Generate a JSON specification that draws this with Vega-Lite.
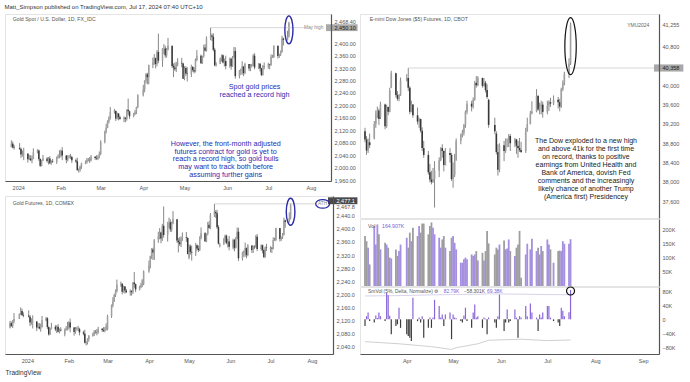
{
"$schema":"https://vega.github.io/schema/vega-lite/v6.json",
"background":"white",
"padding":{"left":4,"top":3,"right":0,"bottom":0},
"config":{"font":"Liberation Sans","view":{"stroke":"#e4e4e4","strokeWidth":1,"fill":"white"},"axis":{"labelFontSize":5.5,"labelColor":"#555","grid":false,"ticks":false,"domainColor":"#555","domainWidth":1.2,"labelPadding":3,"labelOverlap":false,"labelSeparation":0}},
"title":{"text":"Matt_Simpson published on TradingView.com, Jul 17, 2024 07:40 UTC+10","anchor":"start","fontSize":6,"fontWeight":"normal","color":"#333","offset":3},
"datasets":{
"spot":[
{"d":"2023-12-27","o":2067,"h":2088,"l":2065,"c":2077},{"d":"2023-12-28","o":2077,"h":2084,"l":2062,"c":2065},{"d":"2023-12-29","o":2065,"h":2073,"l":2058,"c":2063},
{"d":"2024-01-02","o":2063,"h":2079,"l":2057,"c":2060},{"d":"2024-01-03","o":2060,"h":2065,"l":2031,"c":2042},{"d":"2024-01-04","o":2042,"h":2055,"l":2035,"c":2043},{"d":"2024-01-05","o":2043,"h":2064,"l":2024,"c":2045},
{"d":"2024-01-08","o":2045,"h":2047,"l":2016,"c":2027},{"d":"2024-01-09","o":2027,"h":2041,"l":2024,"c":2029},{"d":"2024-01-10","o":2029,"h":2040,"l":2021,"c":2024},{"d":"2024-01-11","o":2024,"h":2039,"l":2014,"c":2028},{"d":"2024-01-12","o":2028,"h":2062,"l":2027,"c":2049},
{"d":"2024-01-15","o":2049,"h":2059,"l":2046,"c":2055},{"d":"2024-01-16","o":2055,"h":2058,"l":2022,"c":2028},{"d":"2024-01-17","o":2028,"h":2030,"l":2002,"c":2006},{"d":"2024-01-18","o":2006,"h":2025,"l":2004,"c":2023},{"d":"2024-01-19","o":2023,"h":2041,"l":2021,"c":2029},
{"d":"2024-01-22","o":2029,"h":2034,"l":2016,"c":2021},{"d":"2024-01-23","o":2021,"h":2034,"l":2010,"c":2029},{"d":"2024-01-24","o":2029,"h":2037,"l":2012,"c":2014},{"d":"2024-01-25","o":2014,"h":2024,"l":2009,"c":2020},{"d":"2024-01-26","o":2020,"h":2028,"l":2015,"c":2018},
{"d":"2024-01-29","o":2018,"h":2036,"l":2012,"c":2032},{"d":"2024-01-30","o":2032,"h":2043,"l":2029,"c":2036},{"d":"2024-01-31","o":2036,"h":2056,"l":2030,"c":2039},{"d":"2024-02-01","o":2039,"h":2058,"l":2033,"c":2054},{"d":"2024-02-02","o":2054,"h":2066,"l":2024,"c":2039},
{"d":"2024-02-05","o":2039,"h":2040,"l":2014,"c":2025},{"d":"2024-02-06","o":2025,"h":2040,"l":2020,"c":2035},{"d":"2024-02-07","o":2035,"h":2041,"l":2030,"c":2035},{"d":"2024-02-08","o":2035,"h":2044,"l":2028,"c":2034},{"d":"2024-02-09","o":2034,"h":2038,"l":2015,"c":2024},
{"d":"2024-02-12","o":2024,"h":2029,"l":2015,"c":2020},{"d":"2024-02-13","o":2020,"h":2032,"l":1990,"c":1992},{"d":"2024-02-14","o":1992,"h":1997,"l":1984,"c":1992},{"d":"2024-02-15","o":1992,"h":2006,"l":1987,"c":2004},{"d":"2024-02-16","o":2004,"h":2016,"l":1996,"c":2013},
{"d":"2024-02-19","o":2013,"h":2023,"l":2011,"c":2017},{"d":"2024-02-20","o":2017,"h":2031,"l":2013,"c":2025},{"d":"2024-02-21","o":2025,"h":2031,"l":2020,"c":2025},{"d":"2024-02-22","o":2025,"h":2034,"l":2015,"c":2024},{"d":"2024-02-23","o":2024,"h":2041,"l":2020,"c":2035},
{"d":"2024-02-26","o":2035,"h":2037,"l":2025,"c":2031},{"d":"2024-02-27","o":2031,"h":2040,"l":2025,"c":2029},{"d":"2024-02-28","o":2029,"h":2040,"l":2024,"c":2034},{"d":"2024-02-29","o":2034,"h":2052,"l":2030,"c":2044},{"d":"2024-03-01","o":2044,"h":2088,"l":2040,"c":2083},
{"d":"2024-03-04","o":2083,"h":2119,"l":2078,"c":2115},{"d":"2024-03-05","o":2115,"h":2141,"l":2110,"c":2128},{"d":"2024-03-06","o":2128,"h":2152,"l":2127,"c":2148},{"d":"2024-03-07","o":2148,"h":2165,"l":2142,"c":2160},{"d":"2024-03-08","o":2160,"h":2195,"l":2155,"c":2179},
{"d":"2024-03-11","o":2179,"h":2189,"l":2173,"c":2182},{"d":"2024-03-12","o":2182,"h":2184,"l":2150,"c":2158},{"d":"2024-03-13","o":2158,"h":2177,"l":2155,"c":2174},{"d":"2024-03-14","o":2174,"h":2175,"l":2152,"c":2162},{"d":"2024-03-15","o":2162,"h":2167,"l":2154,"c":2156},
{"d":"2024-03-18","o":2156,"h":2165,"l":2146,"c":2160},{"d":"2024-03-19","o":2160,"h":2163,"l":2146,"c":2157},{"d":"2024-03-20","o":2157,"h":2187,"l":2151,"c":2186},{"d":"2024-03-21","o":2186,"h":2222,"l":2170,"c":2181},{"d":"2024-03-22","o":2181,"h":2183,"l":2157,"c":2165},
{"d":"2024-03-25","o":2165,"h":2176,"l":2162,"c":2172},{"d":"2024-03-26","o":2172,"h":2185,"l":2169,"c":2179},{"d":"2024-03-27","o":2179,"h":2196,"l":2172,"c":2194},{"d":"2024-03-28","o":2194,"h":2236,"l":2191,"c":2233},
{"d":"2024-04-01","o":2233,"h":2266,"l":2229,"c":2251},{"d":"2024-04-02","o":2251,"h":2281,"l":2242,"c":2280},{"d":"2024-04-03","o":2280,"h":2304,"l":2271,"c":2300},{"d":"2024-04-04","o":2300,"h":2305,"l":2268,"c":2291},{"d":"2024-04-05","o":2291,"h":2331,"l":2268,"c":2330},
{"d":"2024-04-08","o":2330,"h":2354,"l":2320,"c":2339},{"d":"2024-04-09","o":2339,"h":2365,"l":2331,"c":2352},{"d":"2024-04-10","o":2352,"h":2354,"l":2319,"c":2333},{"d":"2024-04-11","o":2333,"h":2378,"l":2326,"c":2372},{"d":"2024-04-12","o":2372,"h":2431,"l":2336,"c":2344},
{"d":"2024-04-15","o":2344,"h":2384,"l":2324,"c":2383},{"d":"2024-04-16","o":2383,"h":2397,"l":2365,"c":2383},{"d":"2024-04-17","o":2383,"h":2392,"l":2353,"c":2361},{"d":"2024-04-18","o":2361,"h":2385,"l":2354,"c":2379},{"d":"2024-04-19","o":2379,"h":2417,"l":2377,"c":2392},
{"d":"2024-04-22","o":2392,"h":2392,"l":2320,"c":2327},{"d":"2024-04-23","o":2327,"h":2335,"l":2291,"c":2322},{"d":"2024-04-24","o":2322,"h":2338,"l":2311,"c":2316},{"d":"2024-04-25","o":2316,"h":2340,"l":2307,"c":2332},{"d":"2024-04-26","o":2332,"h":2352,"l":2326,"c":2337},
{"d":"2024-04-29","o":2337,"h":2353,"l":2323,"c":2335},{"d":"2024-04-30","o":2335,"h":2337,"l":2285,"c":2286},{"d":"2024-05-01","o":2286,"h":2326,"l":2281,"c":2320},{"d":"2024-05-02","o":2320,"h":2326,"l":2295,"c":2303},{"d":"2024-05-03","o":2303,"h":2323,"l":2277,"c":2301},
{"d":"2024-05-06","o":2301,"h":2331,"l":2291,"c":2324},{"d":"2024-05-07","o":2324,"h":2326,"l":2308,"c":2314},{"d":"2024-05-08","o":2314,"h":2323,"l":2303,"c":2309},{"d":"2024-05-09","o":2309,"h":2351,"l":2306,"c":2346},{"d":"2024-05-10","o":2346,"h":2378,"l":2342,"c":2360},
{"d":"2024-05-13","o":2360,"h":2364,"l":2334,"c":2336},{"d":"2024-05-14","o":2336,"h":2360,"l":2333,"c":2358},{"d":"2024-05-15","o":2358,"h":2395,"l":2354,"c":2386},{"d":"2024-05-16","o":2386,"h":2397,"l":2374,"c":2376},{"d":"2024-05-17","o":2376,"h":2422,"l":2373,"c":2415},
{"d":"2024-05-20","o":2415,"h":2450,"l":2410,"c":2425},{"d":"2024-05-21","o":2425,"h":2431,"l":2407,"c":2421},{"d":"2024-05-22","o":2421,"h":2432,"l":2374,"c":2379},{"d":"2024-05-23","o":2379,"h":2385,"l":2326,"c":2329},{"d":"2024-05-24","o":2329,"h":2339,"l":2325,"c":2334},
{"d":"2024-05-27","o":2334,"h":2354,"l":2333,"c":2350},{"d":"2024-05-28","o":2350,"h":2364,"l":2341,"c":2361},{"d":"2024-05-29","o":2361,"h":2364,"l":2335,"c":2338},{"d":"2024-05-30","o":2338,"h":2351,"l":2325,"c":2343},{"d":"2024-05-31","o":2343,"h":2360,"l":2316,"c":2327},
{"d":"2024-06-03","o":2327,"h":2354,"l":2321,"c":2350},{"d":"2024-06-04","o":2350,"h":2353,"l":2315,"c":2326},{"d":"2024-06-05","o":2326,"h":2359,"l":2324,"c":2355},{"d":"2024-06-06","o":2355,"h":2388,"l":2352,"c":2375},{"d":"2024-06-07","o":2375,"h":2387,"l":2286,"c":2294},
{"d":"2024-06-10","o":2294,"h":2314,"l":2287,"c":2311},{"d":"2024-06-11","o":2311,"h":2318,"l":2298,"c":2316},{"d":"2024-06-12","o":2316,"h":2342,"l":2299,"c":2325},{"d":"2024-06-13","o":2325,"h":2327,"l":2294,"c":2304},{"d":"2024-06-14","o":2304,"h":2337,"l":2300,"c":2333},
{"d":"2024-06-17","o":2333,"h":2333,"l":2311,"c":2319},{"d":"2024-06-18","o":2319,"h":2333,"l":2310,"c":2329},{"d":"2024-06-19","o":2329,"h":2334,"l":2322,"c":2328},{"d":"2024-06-20","o":2328,"h":2365,"l":2327,"c":2360},{"d":"2024-06-21","o":2360,"h":2368,"l":2316,"c":2322},
{"d":"2024-06-24","o":2322,"h":2336,"l":2317,"c":2334},{"d":"2024-06-25","o":2334,"h":2336,"l":2309,"c":2319},{"d":"2024-06-26","o":2319,"h":2321,"l":2294,"c":2298},{"d":"2024-06-27","o":2298,"h":2330,"l":2296,"c":2327},{"d":"2024-06-28","o":2327,"h":2338,"l":2316,"c":2326},
{"d":"2024-07-01","o":2326,"h":2337,"l":2318,"c":2332},{"d":"2024-07-02","o":2332,"h":2334,"l":2316,"c":2330},{"d":"2024-07-03","o":2330,"h":2364,"l":2327,"c":2356},{"d":"2024-07-04","o":2356,"h":2363,"l":2353,"c":2356},{"d":"2024-07-05","o":2356,"h":2393,"l":2352,"c":2392},
{"d":"2024-07-08","o":2392,"h":2392,"l":2351,"c":2359},{"d":"2024-07-09","o":2359,"h":2366,"l":2353,"c":2364},{"d":"2024-07-10","o":2364,"h":2377,"l":2359,"c":2371},{"d":"2024-07-11","o":2371,"h":2424,"l":2370,"c":2415},{"d":"2024-07-12","o":2415,"h":2418,"l":2393,"c":2411},
{"d":"2024-07-15","o":2411,"h":2440,"l":2409,"c":2422},{"d":"2024-07-16","o":2422,"h":2469,"l":2418,"c":2466}
],
"fut":[
{"d":"2023-12-19","o":2099,"h":2119,"l":2096,"c":2112},{"d":"2023-12-20","o":2112,"h":2117,"l":2101,"c":2103},{"d":"2023-12-21","o":2103,"h":2122,"l":2097,"c":2117},{"d":"2023-12-22","o":2117,"h":2143,"l":2112,"c":2125},{"d":"2023-12-26","o":2125,"h":2142,"l":2125,"c":2139},
{"d":"2023-12-27","o":2139,"h":2160,"l":2137,"c":2149},{"d":"2023-12-28","o":2149,"h":2156,"l":2134,"c":2137},{"d":"2023-12-29","o":2137,"h":2145,"l":2130,"c":2135},{"d":"2024-01-02","o":2135,"h":2151,"l":2129,"c":2132},{"d":"2024-01-03","o":2132,"h":2137,"l":2103,"c":2114},
{"d":"2024-01-04","o":2114,"h":2127,"l":2107,"c":2115},{"d":"2024-01-05","o":2115,"h":2136,"l":2096,"c":2117},{"d":"2024-01-08","o":2117,"h":2119,"l":2088,"c":2099},{"d":"2024-01-09","o":2099,"h":2113,"l":2096,"c":2101},{"d":"2024-01-10","o":2101,"h":2112,"l":2093,"c":2096},
{"d":"2024-01-11","o":2096,"h":2111,"l":2086,"c":2100},{"d":"2024-01-12","o":2100,"h":2134,"l":2099,"c":2121},{"d":"2024-01-15","o":2121,"h":2131,"l":2118,"c":2127},{"d":"2024-01-16","o":2127,"h":2130,"l":2094,"c":2100},{"d":"2024-01-17","o":2100,"h":2102,"l":2074,"c":2078},
{"d":"2024-01-18","o":2078,"h":2097,"l":2076,"c":2095},{"d":"2024-01-19","o":2095,"h":2113,"l":2093,"c":2101},{"d":"2024-01-22","o":2101,"h":2106,"l":2088,"c":2093},{"d":"2024-01-23","o":2093,"h":2106,"l":2082,"c":2101},{"d":"2024-01-24","o":2101,"h":2109,"l":2084,"c":2086},
{"d":"2024-01-25","o":2086,"h":2096,"l":2081,"c":2092},{"d":"2024-01-26","o":2092,"h":2100,"l":2087,"c":2090},{"d":"2024-01-29","o":2078,"h":2096,"l":2072,"c":2092},{"d":"2024-01-30","o":2092,"h":2103,"l":2089,"c":2096},{"d":"2024-01-31","o":2096,"h":2116,"l":2090,"c":2099},
{"d":"2024-02-01","o":2099,"h":2118,"l":2093,"c":2114},{"d":"2024-02-02","o":2114,"h":2126,"l":2084,"c":2099},{"d":"2024-02-05","o":2099,"h":2100,"l":2074,"c":2085},{"d":"2024-02-06","o":2085,"h":2100,"l":2080,"c":2095},{"d":"2024-02-07","o":2095,"h":2101,"l":2090,"c":2095},
{"d":"2024-02-08","o":2095,"h":2104,"l":2088,"c":2094},{"d":"2024-02-09","o":2094,"h":2098,"l":2075,"c":2084},{"d":"2024-02-12","o":2084,"h":2089,"l":2075,"c":2080},{"d":"2024-02-13","o":2080,"h":2092,"l":2050,"c":2052},{"d":"2024-02-14","o":2052,"h":2057,"l":2044,"c":2052},
{"d":"2024-02-15","o":2052,"h":2066,"l":2047,"c":2064},{"d":"2024-02-16","o":2064,"h":2076,"l":2056,"c":2073},{"d":"2024-02-19","o":2073,"h":2083,"l":2071,"c":2077},{"d":"2024-02-20","o":2077,"h":2091,"l":2073,"c":2085},{"d":"2024-02-21","o":2085,"h":2091,"l":2080,"c":2085},
{"d":"2024-02-22","o":2085,"h":2094,"l":2075,"c":2084},{"d":"2024-02-23","o":2084,"h":2101,"l":2080,"c":2095},{"d":"2024-02-26","o":2095,"h":2097,"l":2085,"c":2091},{"d":"2024-02-27","o":2091,"h":2100,"l":2085,"c":2089},{"d":"2024-02-28","o":2089,"h":2100,"l":2084,"c":2094},
{"d":"2024-02-29","o":2094,"h":2112,"l":2090,"c":2104},{"d":"2024-03-01","o":2094,"h":2138,"l":2090,"c":2133},{"d":"2024-03-04","o":2133,"h":2169,"l":2128,"c":2165},{"d":"2024-03-05","o":2165,"h":2191,"l":2160,"c":2178},{"d":"2024-03-06","o":2178,"h":2202,"l":2177,"c":2198},
{"d":"2024-03-07","o":2198,"h":2215,"l":2192,"c":2210},{"d":"2024-03-08","o":2210,"h":2245,"l":2205,"c":2229},{"d":"2024-03-11","o":2229,"h":2239,"l":2223,"c":2232},{"d":"2024-03-12","o":2232,"h":2234,"l":2200,"c":2208},{"d":"2024-03-13","o":2208,"h":2227,"l":2205,"c":2224},
{"d":"2024-03-14","o":2224,"h":2225,"l":2202,"c":2212},{"d":"2024-03-15","o":2212,"h":2217,"l":2204,"c":2206},{"d":"2024-03-18","o":2206,"h":2215,"l":2196,"c":2210},{"d":"2024-03-19","o":2210,"h":2213,"l":2196,"c":2207},{"d":"2024-03-20","o":2207,"h":2237,"l":2201,"c":2236},
{"d":"2024-03-21","o":2236,"h":2268,"l":2220,"c":2231},{"d":"2024-03-22","o":2231,"h":2233,"l":2207,"c":2215},{"d":"2024-03-25","o":2215,"h":2226,"l":2212,"c":2222},{"d":"2024-03-26","o":2222,"h":2235,"l":2219,"c":2229},{"d":"2024-03-27","o":2229,"h":2246,"l":2222,"c":2244},
{"d":"2024-03-28","o":2231,"h":2273,"l":2228,"c":2270},{"d":"2024-04-01","o":2270,"h":2303,"l":2266,"c":2288},{"d":"2024-04-02","o":2288,"h":2318,"l":2279,"c":2317},{"d":"2024-04-03","o":2317,"h":2341,"l":2308,"c":2337},{"d":"2024-04-04","o":2337,"h":2342,"l":2305,"c":2328},
{"d":"2024-04-05","o":2328,"h":2368,"l":2305,"c":2367},{"d":"2024-04-08","o":2367,"h":2391,"l":2357,"c":2376},{"d":"2024-04-09","o":2376,"h":2402,"l":2368,"c":2389},{"d":"2024-04-10","o":2389,"h":2391,"l":2356,"c":2370},{"d":"2024-04-11","o":2370,"h":2415,"l":2363,"c":2409},
{"d":"2024-04-12","o":2409,"h":2468,"l":2373,"c":2381},{"d":"2024-04-15","o":2381,"h":2421,"l":2361,"c":2420},{"d":"2024-04-16","o":2420,"h":2434,"l":2402,"c":2420},{"d":"2024-04-17","o":2420,"h":2429,"l":2390,"c":2398},{"d":"2024-04-18","o":2398,"h":2422,"l":2391,"c":2416},
{"d":"2024-04-19","o":2416,"h":2454,"l":2414,"c":2429},{"d":"2024-04-22","o":2429,"h":2429,"l":2357,"c":2364},{"d":"2024-04-23","o":2364,"h":2372,"l":2328,"c":2359},{"d":"2024-04-24","o":2359,"h":2375,"l":2348,"c":2353},{"d":"2024-04-25","o":2353,"h":2377,"l":2344,"c":2369},
{"d":"2024-04-26","o":2369,"h":2389,"l":2363,"c":2374},{"d":"2024-04-29","o":2374,"h":2390,"l":2360,"c":2372},{"d":"2024-04-30","o":2372,"h":2374,"l":2322,"c":2323},{"d":"2024-05-01","o":2312,"h":2352,"l":2307,"c":2346},{"d":"2024-05-02","o":2346,"h":2352,"l":2321,"c":2329},
{"d":"2024-05-03","o":2329,"h":2349,"l":2303,"c":2327},{"d":"2024-05-06","o":2327,"h":2357,"l":2317,"c":2350},{"d":"2024-05-07","o":2350,"h":2352,"l":2334,"c":2340},{"d":"2024-05-08","o":2340,"h":2349,"l":2329,"c":2335},{"d":"2024-05-09","o":2335,"h":2377,"l":2332,"c":2372},
{"d":"2024-05-10","o":2372,"h":2404,"l":2368,"c":2386},{"d":"2024-05-13","o":2386,"h":2390,"l":2360,"c":2362},{"d":"2024-05-14","o":2362,"h":2386,"l":2359,"c":2384},{"d":"2024-05-15","o":2384,"h":2421,"l":2380,"c":2412},{"d":"2024-05-16","o":2412,"h":2423,"l":2400,"c":2402},
{"d":"2024-05-17","o":2402,"h":2448,"l":2399,"c":2441},{"d":"2024-05-20","o":2441,"h":2476,"l":2436,"c":2451},{"d":"2024-05-21","o":2451,"h":2457,"l":2433,"c":2447},{"d":"2024-05-22","o":2447,"h":2458,"l":2400,"c":2405},{"d":"2024-05-23","o":2405,"h":2411,"l":2352,"c":2355},
{"d":"2024-05-24","o":2347,"h":2357,"l":2343,"c":2352},{"d":"2024-05-27","o":2352,"h":2372,"l":2351,"c":2368},{"d":"2024-05-28","o":2368,"h":2382,"l":2359,"c":2379},{"d":"2024-05-29","o":2379,"h":2382,"l":2353,"c":2356},{"d":"2024-05-30","o":2356,"h":2369,"l":2343,"c":2361},
{"d":"2024-05-31","o":2361,"h":2378,"l":2334,"c":2345},{"d":"2024-06-03","o":2343,"h":2370,"l":2337,"c":2366},{"d":"2024-06-04","o":2366,"h":2369,"l":2331,"c":2342},{"d":"2024-06-05","o":2342,"h":2375,"l":2340,"c":2371},{"d":"2024-06-06","o":2371,"h":2404,"l":2368,"c":2391},
{"d":"2024-06-07","o":2391,"h":2403,"l":2302,"c":2310},{"d":"2024-06-10","o":2310,"h":2330,"l":2303,"c":2327},{"d":"2024-06-11","o":2327,"h":2334,"l":2314,"c":2332},{"d":"2024-06-12","o":2332,"h":2358,"l":2315,"c":2341},{"d":"2024-06-13","o":2341,"h":2343,"l":2310,"c":2320},
{"d":"2024-06-14","o":2320,"h":2353,"l":2316,"c":2349},{"d":"2024-06-17","o":2349,"h":2349,"l":2327,"c":2335},{"d":"2024-06-18","o":2335,"h":2349,"l":2326,"c":2345},{"d":"2024-06-19","o":2345,"h":2350,"l":2338,"c":2344},{"d":"2024-06-20","o":2344,"h":2381,"l":2343,"c":2376},
{"d":"2024-06-21","o":2376,"h":2384,"l":2332,"c":2338},{"d":"2024-06-24","o":2338,"h":2352,"l":2333,"c":2350},{"d":"2024-06-25","o":2350,"h":2352,"l":2325,"c":2335},{"d":"2024-06-26","o":2335,"h":2337,"l":2310,"c":2314},{"d":"2024-06-27","o":2314,"h":2346,"l":2312,"c":2343},
{"d":"2024-06-28","o":2343,"h":2354,"l":2332,"c":2342},{"d":"2024-07-01","o":2336,"h":2347,"l":2328,"c":2342},{"d":"2024-07-02","o":2342,"h":2344,"l":2326,"c":2340},{"d":"2024-07-03","o":2340,"h":2374,"l":2337,"c":2366},{"d":"2024-07-04","o":2366,"h":2373,"l":2363,"c":2366},
{"d":"2024-07-05","o":2366,"h":2403,"l":2362,"c":2402},{"d":"2024-07-08","o":2402,"h":2402,"l":2361,"c":2369},{"d":"2024-07-09","o":2369,"h":2376,"l":2363,"c":2374},{"d":"2024-07-10","o":2374,"h":2387,"l":2369,"c":2381},{"d":"2024-07-11","o":2381,"h":2434,"l":2380,"c":2425},
{"d":"2024-07-12","o":2425,"h":2428,"l":2403,"c":2421},{"d":"2024-07-15","o":2421,"h":2450,"l":2419,"c":2432},{"d":"2024-07-16","o":2432,"h":2477,"l":2428,"c":2474}
],
"dow":[
{"d":"2024-03-05","o":39050,"h":39120,"l":38820,"c":38880,"v":176,"s":-19},{"d":"2024-03-06","o":38880,"h":38950,"l":38560,"c":38650,"v":158,"s":9},{"d":"2024-03-07","o":38650,"h":38900,"l":38600,"c":38820,"v":135,"s":19},{"d":"2024-03-08","o":38820,"h":39000,"l":38700,"c":38760,"v":76,"s":-5},
{"d":"2024-03-11","o":38900,"h":39260,"l":38880,"c":39200,"v":211,"s":-9},{"d":"2024-03-12","o":39200,"h":39480,"l":39120,"c":39420,"v":146,"s":11},{"d":"2024-03-13","o":39420,"h":39560,"l":39320,"c":39480,"v":217,"s":4},{"d":"2024-03-14","o":39480,"h":39520,"l":39180,"c":39300,"v":182,"s":19},
{"d":"2024-03-15","o":39350,"h":39660,"l":39300,"c":39600,"v":129,"s":9},{"d":"2024-03-18","o":39600,"h":39620,"l":39090,"c":39150,"v":152,"s":-5},{"d":"2024-03-19","o":39150,"h":39600,"l":39120,"c":39550,"v":146,"s":75},{"d":"2024-03-20","o":39550,"h":39560,"l":39380,"c":39450,"v":135,"s":68},
{"d":"2024-03-21","o":39450,"h":39950,"l":39440,"c":39900,"v":100,"s":10},{"d":"2024-03-22","o":39950,"h":40300,"l":39940,"c":40250,"v":97,"s":-42},{"d":"2024-03-25","o":40250,"h":40260,"l":39750,"c":39800,"v":129,"s":-19},{"d":"2024-03-26","o":39800,"h":39880,"l":39680,"c":39720,"v":106,"s":-14},
{"d":"2024-03-27","o":39720,"h":39820,"l":39670,"c":39800,"v":123,"s":33},{"d":"2024-03-28","o":39800,"h":40160,"l":39780,"c":40100,"v":146,"s":-24},{"d":"2024-04-01","o":40100,"h":40230,"l":40080,"c":40150,"v":170,"s":-42},{"d":"2024-04-02","o":40150,"h":40358,"l":39880,"c":39950,"v":135,"s":-47},
{"d":"2024-04-03","o":39950,"h":39980,"l":39400,"c":39450,"v":188,"s":-52},{"d":"2024-04-04","o":39450,"h":39680,"l":39440,"c":39600,"v":158,"s":-61},{"d":"2024-04-05","o":39600,"h":39610,"l":39330,"c":39380,"v":205,"s":61},{"d":"2024-04-08","o":39380,"h":39540,"l":39190,"c":39250,"v":176,"s":-5},
{"d":"2024-04-09","o":39250,"h":39330,"l":39120,"c":39300,"v":211,"s":5},{"d":"2024-04-10","o":39300,"h":39310,"l":39020,"c":39060,"v":188,"s":-9},{"d":"2024-04-11","o":39060,"h":39130,"l":38640,"c":38700,"v":220,"s":9},{"d":"2024-04-12","o":38700,"h":38850,"l":38500,"c":38560,"v":220,"s":-52},
{"d":"2024-04-15","o":38560,"h":38640,"l":38150,"c":38200,"v":182,"s":-24},{"d":"2024-04-16","o":38200,"h":38370,"l":37990,"c":38050,"v":211,"s":5},{"d":"2024-04-17","o":38050,"h":38230,"l":37950,"c":38000,"v":224,"s":-24},{"d":"2024-04-18","o":38000,"h":38290,"l":37980,"c":38060,"v":205,"s":5},
{"d":"2024-04-19","o":38060,"h":38430,"l":37470,"c":38230,"v":182,"s":55},{"d":"2024-04-22","o":38230,"h":38510,"l":38100,"c":38450,"v":170,"s":38},{"d":"2024-04-23","o":38450,"h":38720,"l":38430,"c":38700,"v":135,"s":5},{"d":"2024-04-24","o":38700,"h":38780,"l":38500,"c":38640,"v":164,"s":14},
{"d":"2024-04-25","o":38640,"h":38650,"l":38220,"c":38350,"v":176,"s":-19},{"d":"2024-04-26","o":38350,"h":38700,"l":38340,"c":38600,"v":135,"s":14},{"d":"2024-04-29","o":38600,"h":38700,"l":38400,"c":38560,"v":123,"s":19},{"d":"2024-04-30","o":38560,"h":38600,"l":38020,"c":38060,"v":170,"s":-56},
{"d":"2024-05-01","o":38060,"h":38400,"l":37880,"c":38150,"v":176,"s":14},{"d":"2024-05-02","o":38150,"h":38580,"l":38100,"c":38450,"v":152,"s":5},{"d":"2024-05-03","o":38450,"h":38900,"l":38440,"c":38850,"v":129,"s":3},{"d":"2024-05-06","o":38850,"h":39000,"l":38780,"c":38980,"v":82,"s":-5},
{"d":"2024-05-07","o":38980,"h":39080,"l":38920,"c":39020,"v":82,"s":-9},{"d":"2024-05-08","o":39020,"h":39200,"l":38960,"c":39180,"v":94,"s":11},{"d":"2024-05-09","o":39180,"h":39480,"l":39120,"c":39450,"v":100,"s":33},{"d":"2024-05-10","o":39450,"h":39680,"l":39400,"c":39620,"v":94,"s":-5},
{"d":"2024-05-13","o":39620,"h":39680,"l":39460,"c":39560,"v":111,"s":-24},{"d":"2024-05-14","o":39560,"h":39750,"l":39520,"c":39700,"v":106,"s":19},{"d":"2024-05-15","o":39700,"h":40090,"l":39680,"c":40050,"v":111,"s":42},{"d":"2024-05-16","o":40050,"h":40190,"l":39950,"c":40000,"v":123,"s":5},
{"d":"2024-05-17","o":40000,"h":40190,"l":39980,"c":40150,"v":90,"s":9},{"d":"2024-05-20","o":40150,"h":40160,"l":39950,"c":39990,"v":117,"s":-24},{"d":"2024-05-21","o":39990,"h":40150,"l":39970,"c":40050,"v":90,"s":5},{"d":"2024-05-22","o":40050,"h":40090,"l":39850,"c":39900,"v":123,"s":2},
{"d":"2024-05-23","o":39900,"h":40020,"l":39720,"c":39760,"v":194,"s":-42},{"d":"2024-05-24","o":39700,"h":39720,"l":39120,"c":39180,"v":150,"s":5},{"d":"2024-05-28","o":39180,"h":39330,"l":38990,"c":39050,"v":111,"s":-9},{"d":"2024-05-29","o":39000,"h":39050,"l":38570,"c":38620,"v":135,"s":-24},
{"d":"2024-05-30","o":38620,"h":38780,"l":38130,"c":38250,"v":129,"s":9},{"d":"2024-05-31","o":38250,"h":38800,"l":38200,"c":38760,"v":146,"s":70},{"d":"2024-06-03","o":38760,"h":38850,"l":38430,"c":38640,"v":160,"s":-33},{"d":"2024-06-04","o":38640,"h":38900,"l":38600,"c":38850,"v":129,"s":-9},
{"d":"2024-06-05","o":38850,"h":38900,"l":38720,"c":38880,"v":132,"s":28},{"d":"2024-06-06","o":38880,"h":38990,"l":38720,"c":38950,"v":164,"s":-9},{"d":"2024-06-07","o":38950,"h":38990,"l":38640,"c":38800,"v":123,"s":-5},{"d":"2024-06-10","o":38800,"h":38910,"l":38720,"c":38880,"v":106,"s":28},
{"d":"2024-06-11","o":38880,"h":38890,"l":38580,"c":38750,"v":135,"s":5},{"d":"2024-06-12","o":38750,"h":38850,"l":38500,"c":38700,"v":146,"s":-52},{"d":"2024-06-13","o":38700,"h":38910,"l":38620,"c":38660,"v":194,"s":9},{"d":"2024-06-14","o":38660,"h":38830,"l":38600,"c":38620,"v":29,"s":5},
{"d":"2024-06-17","o":38640,"h":39120,"l":38600,"c":39050,"v":111,"s":38},{"d":"2024-06-18","o":39050,"h":39330,"l":39040,"c":39200,"v":149,"s":9},{"d":"2024-06-20","o":39200,"h":39470,"l":39190,"c":39420,"v":129,"s":45},{"d":"2024-06-21","o":39420,"h":39670,"l":39400,"c":39460,"v":166,"s":19},
{"d":"2024-06-24","o":39460,"h":39920,"l":39440,"c":39780,"v":123,"s":5},{"d":"2024-06-25","o":39780,"h":39800,"l":39470,"c":39500,"v":135,"s":-33},{"d":"2024-06-26","o":39500,"h":39640,"l":39400,"c":39550,"v":111,"s":14},{"d":"2024-06-27","o":39550,"h":39680,"l":39400,"c":39600,"v":141,"s":5},
{"d":"2024-06-28","o":39600,"h":39660,"l":39330,"c":39450,"v":123,"s":19},{"d":"2024-07-01","o":39450,"h":39680,"l":39400,"c":39580,"v":164,"s":38},{"d":"2024-07-02","o":39580,"h":39690,"l":39470,"c":39650,"v":146,"s":38},{"d":"2024-07-03","o":39650,"h":39740,"l":39550,"c":39620,"v":129,"s":5},
{"d":"2024-07-05","o":39620,"h":39790,"l":39590,"c":39700,"v":82,"s":-5},{"d":"2024-07-08","o":39700,"h":39760,"l":39520,"c":39650,"v":123,"s":-9},{"d":"2024-07-09","o":39650,"h":39720,"l":39460,"c":39560,"v":125,"s":-19},{"d":"2024-07-10","o":39560,"h":39950,"l":39530,"c":39920,"v":123,"s":33},
{"d":"2024-07-11","o":39920,"h":40100,"l":39880,"c":40050,"v":158,"s":24},{"d":"2024-07-12","o":40050,"h":40280,"l":40000,"c":40230,"v":149,"s":9},{"d":"2024-07-15","o":40230,"h":40560,"l":40150,"c":40450,"v":149,"s":20},{"d":"2024-07-16","o":40450,"h":41300,"l":40420,"c":41255,"v":165,"s":83}
],
"bands":[
{"d":"2024-03-05","u":66,"lo":-63},{"d":"2024-03-27","u":67,"lo":-69},{"d":"2024-04-17","u":69,"lo":-77},{"d":"2024-04-30","u":70,"lo":-85},{"d":"2024-05-03","u":70,"lo":-80},{"d":"2024-05-17","u":71,"lo":-69},{"d":"2024-05-24","u":72,"lo":-59},{"d":"2024-06-14","u":71,"lo":-56},{"d":"2024-07-01","u":70,"lo":-60},{"d":"2024-07-16","u":69.4,"lo":-58.3}
],
"levels":[
{"panel":"spot","d":"2024-05-20","d2":"2024-07-28","p":2450},{"panel":"fut","d":"2024-05-20","d2":"2024-08-03","p":2476},{"panel":"dow","d":"2024-04-02","d2":"2024-09-08","p":40358}
],
"tags":[
{"panel":"spot","d":"2024-08-12","d2":"2024-09-04","p":2439,"p2":2461},
{"panel":"fut","d":"2024-08-13","d2":"2024-09-04","p":2475,"p2":2496},
{"panel":"dow","d":"2024-09-08","d2":"2024-09-27","p":40284,"p2":40432}
],
"rings":[
{"panel":"spot","d":"2024-07-16","p":2443},{"panel":"fut","d":"2024-07-16","p":2452},{"panel":"ath","d":"2024-08-09","p":2476},{"panel":"dow","d":"2024-07-16","p":40809},{"panel":"smv","d":"2024-07-16","p":80}
],
"notes":[
{"panel":"spot","k":"hdr","d":"2023-12-28","p":2478,"t":"Gold Spot / U.S. Dollar, 1D, FX_IDC"},
{"panel":"spot","k":"blue","d":"2024-06-21","p":2258,"t":"Spot gold prices\nreached a record high"},
{"panel":"spot","k":"blue","d":"2024-05-31","p":2077,"t":"However, the front-month adjusted\nfutures contract for gold is yet to\nreach a record high, so gold bulls\nmay want to track both before\nassuming further gains"},
{"panel":"spot","k":"small","d":"2024-08-03","p":2450,"t":"May high"},
{"panel":"fut","k":"hdr","d":"2023-12-21","p":2479,"t":"Gold Futures, 1D, COMEX"},
{"panel":"fut","k":"small","d":"2024-08-09","p":2476,"t":"ATH"},
{"panel":"dow","k":"hdr","d":"2024-03-08","p":41372,"t":"E-mini Dow Jones ($5) Futures, 1D, CBOT"},
{"panel":"dow","k":"hdrR","d":"2024-09-05","p":41255,"t":"YMU2024"},
{"panel":"dow","k":"black","d":"2024-07-26","p":38848,"t":"The Dow exploded to a new high\nand above 41k for the first time\non record, thanks to positive\nearnings from United Health and\nBank of America, dovish Fed\ncomments and the increasingly\nlikely chance of another Trump\n(America first) Presidencey"},
{"panel":"vol","k":"hdr","d":"2024-03-07","p":212,"t":"Vol"},
{"panel":"vol","k":"pur","d":"2024-03-16","p":212,"t":"164.907K"},
{"panel":"smv","k":"hdr","d":"2024-03-07","p":77,"t":"SmVol (5%, Delta, Normalize) ⚙"},
{"panel":"smv","k":"pur","d":"2024-04-25","p":77,"t":"82.79K"},
{"panel":"smv","k":"hdr","d":"2024-05-08","p":77,"t":"−58.301K"},
{"panel":"smv","k":"pur","d":"2024-05-23","p":77,"t":"69.38K"}
]
},
"spacing":0,
"hconcat":[
{"bounds":"flush","spacing":15,"vconcat":[
{"width":326,"height":167,
"encoding":{"x":{"field":"d","type":"temporal","scale":{"domain":[{"year":2023,"month":12,"date":26},{"year":2024,"month":8,"date":12}]},"axis":{"tickCount":{"interval":"month","step":1},"labelExpr":"month(datum.value)==0?'2024':timeFormat(datum.value,'%b')","title":null,"labelPadding":4,"labelOverlap":false}}},
"layer":[
{"data":{"name":"spot"},"mark":{"type":"rule","color":"#555","strokeWidth":0.7},"encoding":{"y":{"field":"l","type":"quantitative","scale":{"domain":[1957,2494],"nice":false,"zero":false},"axis":{"orient":"right","values":[1960,2000,2040,2080,2120,2160,2200,2240,2280,2320,2360,2400,2450.1,2468.4],"tickCount":100,"format":",.2f","labelOverlap":false,"zindex":1,"labelColor":{"condition":{"test":"datum.value==2450.1","value":"#222"},"value":"#555"},"title":null}},"y2":{"field":"h"}}},
{"data":{"name":"spot"},"mark":{"type":"bar","width":1.5},"encoding":{"y":{"field":"o","type":"quantitative"},"y2":{"field":"c"},"color":{"condition":{"test":"datum.c>=datum.o","value":"#a0a0a0"},"value":"#383838"}}},
{"data":{"name":"levels"},"transform":[{"filter":"datum.panel=='spot'"}],"mark":{"type":"rule","color":"#cccccc","strokeWidth":0.8},"encoding":{"x2":{"field":"d2"},"y":{"field":"p","type":"quantitative"}}},
{"data":{"name":"tags"},"transform":[{"filter":"datum.panel=='spot'"}],"mark":{"type":"rect","color":"#a8a8a8"},"encoding":{"x2":{"field":"d2"},"y":{"field":"p","type":"quantitative"},"y2":{"field":"p2"}}},
{"data":{"name":"rings"},"transform":[{"filter":"datum.panel=='spot'"}],"mark":{"type":"point","shape":"M0,-1A0.29,1,0,1,1,0,1A0.29,1,0,1,1,0,-1Z","size":784,"filled":false,"color":"#2b2ba6","strokeWidth":1.4,"opacity":1},"encoding":{"y":{"field":"p","type":"quantitative"}}},
{"data":{"name":"notes"},"transform":[{"filter":"datum.panel=='spot' && datum.k=='hdr'"}],"mark":{"type":"text","align":"left","baseline":"middle","fontSize":5.2,"color":"#555"},"encoding":{"y":{"field":"p","type":"quantitative"},"text":{"field":"t"}}},
{"data":{"name":"notes"},"transform":[{"filter":"datum.panel=='spot' && datum.k=='small'"}],"mark":{"type":"text","align":"center","baseline":"middle","fontSize":4.8,"color":"#888"},"encoding":{"y":{"field":"p","type":"quantitative"},"text":{"field":"t"}}},
{"data":{"name":"notes"},"transform":[{"filter":"datum.panel=='spot' && datum.k=='blue'"}],"mark":{"type":"text","align":"center","baseline":"middle","fontSize":7.2,"lineHeight":7.9,"lineBreak":"\n","color":"#2b2bb0"},"encoding":{"y":{"field":"p","type":"quantitative"},"text":{"field":"t"}}}
]},
{"width":328,"height":158,
"encoding":{"x":{"field":"d","type":"temporal","scale":{"domain":[{"year":2023,"month":12,"date":19},{"year":2024,"month":8,"date":13}]},"axis":{"tickCount":{"interval":"month","step":1},"labelExpr":"month(datum.value)==0?'2024':timeFormat(datum.value,'%b')","labelOverlap":false,"title":"TradingView","titleAnchor":"start","titleAlign":"left","titleFontSize":6.5,"titleFontWeight":"normal","titleColor":"#333","titlePadding":6,"labelPadding":4}}},
"layer":[
{"data":{"name":"fut"},"mark":{"type":"rule","color":"#555","strokeWidth":0.7},"encoding":{"y":{"field":"l","type":"quantitative","scale":{"domain":[2018,2500],"nice":false,"zero":false},"axis":{"orient":"right","values":[2040,2080,2120,2160,2200,2240,2280,2320,2360,2400,2440,2467.8,2485.5],"tickCount":100,"labelExpr":"datum.value==2485.5?'2,477.1':format(datum.value,',.1f')","labelOverlap":false,"zindex":1,"labelColor":{"condition":{"test":"datum.value==2485.5","value":"white"},"value":"#555"},"title":null}},"y2":{"field":"h"}}},
{"data":{"name":"fut"},"mark":{"type":"bar","width":1.5},"encoding":{"y":{"field":"o","type":"quantitative"},"y2":{"field":"c"},"color":{"condition":{"test":"datum.c>=datum.o","value":"#a0a0a0"},"value":"#383838"}}},
{"data":{"name":"levels"},"transform":[{"filter":"datum.panel=='fut'"}],"mark":{"type":"rule","color":"#cccccc","strokeWidth":0.8},"encoding":{"x2":{"field":"d2"},"y":{"field":"p","type":"quantitative"}}},
{"data":{"name":"tags"},"transform":[{"filter":"datum.panel=='fut'"}],"mark":{"type":"rect","color":"#4a4a4a"},"encoding":{"x2":{"field":"d2"},"y":{"field":"p","type":"quantitative"},"y2":{"field":"p2"}}},
{"data":{"name":"rings"},"transform":[{"filter":"datum.panel=='fut'"}],"mark":{"type":"point","shape":"M0,-1A0.32,1,0,1,1,0,1A0.32,1,0,1,1,0,-1Z","size":729,"filled":false,"color":"#2b2ba6","strokeWidth":1.4,"opacity":1},"encoding":{"y":{"field":"p","type":"quantitative"}}},
{"data":{"name":"rings"},"transform":[{"filter":"datum.panel=='ath'"}],"mark":{"type":"point","shape":"M-1,0A1,0.62,0,1,1,1,0A1,0.62,0,1,1,-1,0Z","size":196,"filled":false,"color":"#2b2ba6","strokeWidth":1.3,"opacity":1},"encoding":{"y":{"field":"p","type":"quantitative"}}},
{"data":{"name":"notes"},"transform":[{"filter":"datum.panel=='fut' && datum.k=='hdr'"}],"mark":{"type":"text","align":"left","baseline":"middle","fontSize":5.2,"color":"#555"},"encoding":{"y":{"field":"p","type":"quantitative"},"text":{"field":"t"}}},
{"data":{"name":"notes"},"transform":[{"filter":"datum.panel=='fut' && datum.k=='small'"}],"mark":{"type":"text","align":"center","baseline":"middle","fontSize":4.8,"color":"#888"},"encoding":{"y":{"field":"p","type":"quantitative"},"text":{"field":"t"}}}
]}
]},
{"bounds":"flush","spacing":1,"vconcat":[
{"width":299,"height":204,
"encoding":{"x":{"field":"d","type":"temporal","scale":{"domain":[{"year":2024,"month":3,"date":5},{"year":2024,"month":9,"date":8}]},"axis":null}},
"layer":[
{"data":{"name":"dow"},"mark":{"type":"rule","color":"#555","strokeWidth":0.7},"encoding":{"y":{"field":"l","type":"quantitative","scale":{"domain":[37254,41475],"nice":false,"zero":false},"axis":{"orient":"right","values":[37600,38000,38400,38800,39200,39600,40000,40358,40800,41255],"tickCount":100,"format":",d","labelOverlap":false,"zindex":1,"labelColor":{"condition":{"test":"datum.value==40358","value":"#222"},"value":"#555"},"title":null}},"y2":{"field":"h"}}},
{"data":{"name":"dow"},"mark":{"type":"bar","width":1.6},"encoding":{"y":{"field":"o","type":"quantitative"},"y2":{"field":"c"},"color":{"condition":{"test":"datum.c>=datum.o","value":"#a0a0a0"},"value":"#383838"}}},
{"data":{"name":"levels"},"transform":[{"filter":"datum.panel=='dow'"}],"mark":{"type":"rule","color":"#cccccc","strokeWidth":0.8},"encoding":{"x2":{"field":"d2"},"y":{"field":"p","type":"quantitative"}}},
{"data":{"name":"tags"},"transform":[{"filter":"datum.panel=='dow'"}],"mark":{"type":"rect","color":"#a8a8a8"},"encoding":{"x2":{"field":"d2"},"y":{"field":"p","type":"quantitative"},"y2":{"field":"p2"}}},
{"data":{"name":"rings"},"transform":[{"filter":"datum.panel=='dow'"}],"mark":{"type":"point","shape":"M0,-1A0.2,1,0,1,1,0,1A0.2,1,0,1,1,0,-1Z","size":3249,"filled":false,"color":"#111","strokeWidth":1.2,"opacity":1},"encoding":{"y":{"field":"p","type":"quantitative"}}},
{"data":{"name":"notes"},"transform":[{"filter":"datum.panel=='dow' && datum.k=='hdr'"}],"mark":{"type":"text","align":"left","baseline":"middle","fontSize":5.2,"color":"#555"},"encoding":{"y":{"field":"p","type":"quantitative"},"text":{"field":"t"}}},
{"data":{"name":"notes"},"transform":[{"filter":"datum.panel=='dow' && datum.k=='hdrR'"}],"mark":{"type":"text","align":"right","baseline":"middle","fontSize":5,"color":"#666"},"encoding":{"y":{"field":"p","type":"quantitative"},"text":{"field":"t"}}},
{"data":{"name":"notes"},"transform":[{"filter":"datum.panel=='dow' && datum.k=='black'"}],"mark":{"type":"text","align":"center","baseline":"middle","fontSize":7,"lineHeight":8,"lineBreak":"\n","color":"#222"},"encoding":{"y":{"field":"p","type":"quantitative"},"text":{"field":"t"}}}
]},
{"width":299,"height":67,
"encoding":{"x":{"field":"d","type":"temporal","scale":{"domain":[{"year":2024,"month":3,"date":5},{"year":2024,"month":9,"date":8}]},"axis":null}},
"layer":[
{"data":{"name":"dow"},"mark":{"type":"bar","width":1.8},"encoding":{"y":{"field":"v","type":"quantitative","scale":{"domain":[0,236],"nice":false},"axis":{"orient":"right","values":[50,100,150,200],"tickCount":100,"labelExpr":"datum.value+'K'","labelOverlap":false,"title":null}},"color":{"condition":{"test":"datum.c>=datum.o","value":"#a58fe0"},"value":"#9e9e9e"}}},
{"data":{"name":"notes"},"transform":[{"filter":"datum.panel=='vol' && datum.k=='hdr'"}],"mark":{"type":"text","align":"left","baseline":"middle","fontSize":5.2,"color":"#555"},"encoding":{"y":{"field":"p","type":"quantitative"},"text":{"field":"t"}}},
{"data":{"name":"notes"},"transform":[{"filter":"datum.panel=='vol' && datum.k=='pur'"}],"mark":{"type":"text","align":"left","baseline":"middle","fontSize":5.2,"color":"#7b5cd6"},"encoding":{"y":{"field":"p","type":"quantitative"},"text":{"field":"t"}}}
]},
{"width":299,"height":67,
"encoding":{"x":{"field":"d","type":"temporal","scale":{"domain":[{"year":2024,"month":3,"date":5},{"year":2024,"month":9,"date":8}]},"axis":{"tickCount":{"interval":"month","step":1},"labelExpr":"timeFormat(datum.value,'%b')","labelOverlap":false,"title":null,"labelPadding":4}}},
"layer":[
{"data":{"name":"bands"},"mark":{"type":"line","color":"#d9d3ec","strokeWidth":1},"encoding":{"y":{"field":"u","type":"quantitative","scale":{"domain":[-97.8,91.3],"nice":false,"zero":false},"axis":{"orient":"right","values":[-80,-40,0,40,80],"tickCount":100,"labelExpr":"datum.value==0?'0':(datum.value<0?'−':'')+abs(datum.value)+'K'","labelOverlap":false,"title":null}}}},
{"data":{"name":"bands"},"mark":{"type":"line","color":"#d0d0d0","strokeWidth":1},"encoding":{"y":{"field":"lo","type":"quantitative"}}},
{"data":{"name":"dow"},"mark":{"type":"bar","width":1.2},"encoding":{"y":{"field":"s","type":"quantitative"},"color":{"condition":{"test":"datum.s>=0","value":"#8a67d8"},"value":"#3c3c3c"}}},
{"data":{"name":"rings"},"transform":[{"filter":"datum.panel=='smv'"}],"mark":{"type":"point","shape":"circle","size":64,"filled":false,"color":"#111","strokeWidth":1.2,"opacity":1},"encoding":{"y":{"field":"p","type":"quantitative"}}},
{"data":{"name":"notes"},"transform":[{"filter":"datum.panel=='smv' && datum.k=='hdr'"}],"mark":{"type":"text","align":"left","baseline":"middle","fontSize":4.9,"color":"#555"},"encoding":{"y":{"field":"p","type":"quantitative"},"text":{"field":"t"}}},
{"data":{"name":"notes"},"transform":[{"filter":"datum.panel=='smv' && datum.k=='pur'"}],"mark":{"type":"text","align":"left","baseline":"middle","fontSize":4.9,"color":"#7b5cd6"},"encoding":{"y":{"field":"p","type":"quantitative"},"text":{"field":"t"}}}
]}
]}
]
}
